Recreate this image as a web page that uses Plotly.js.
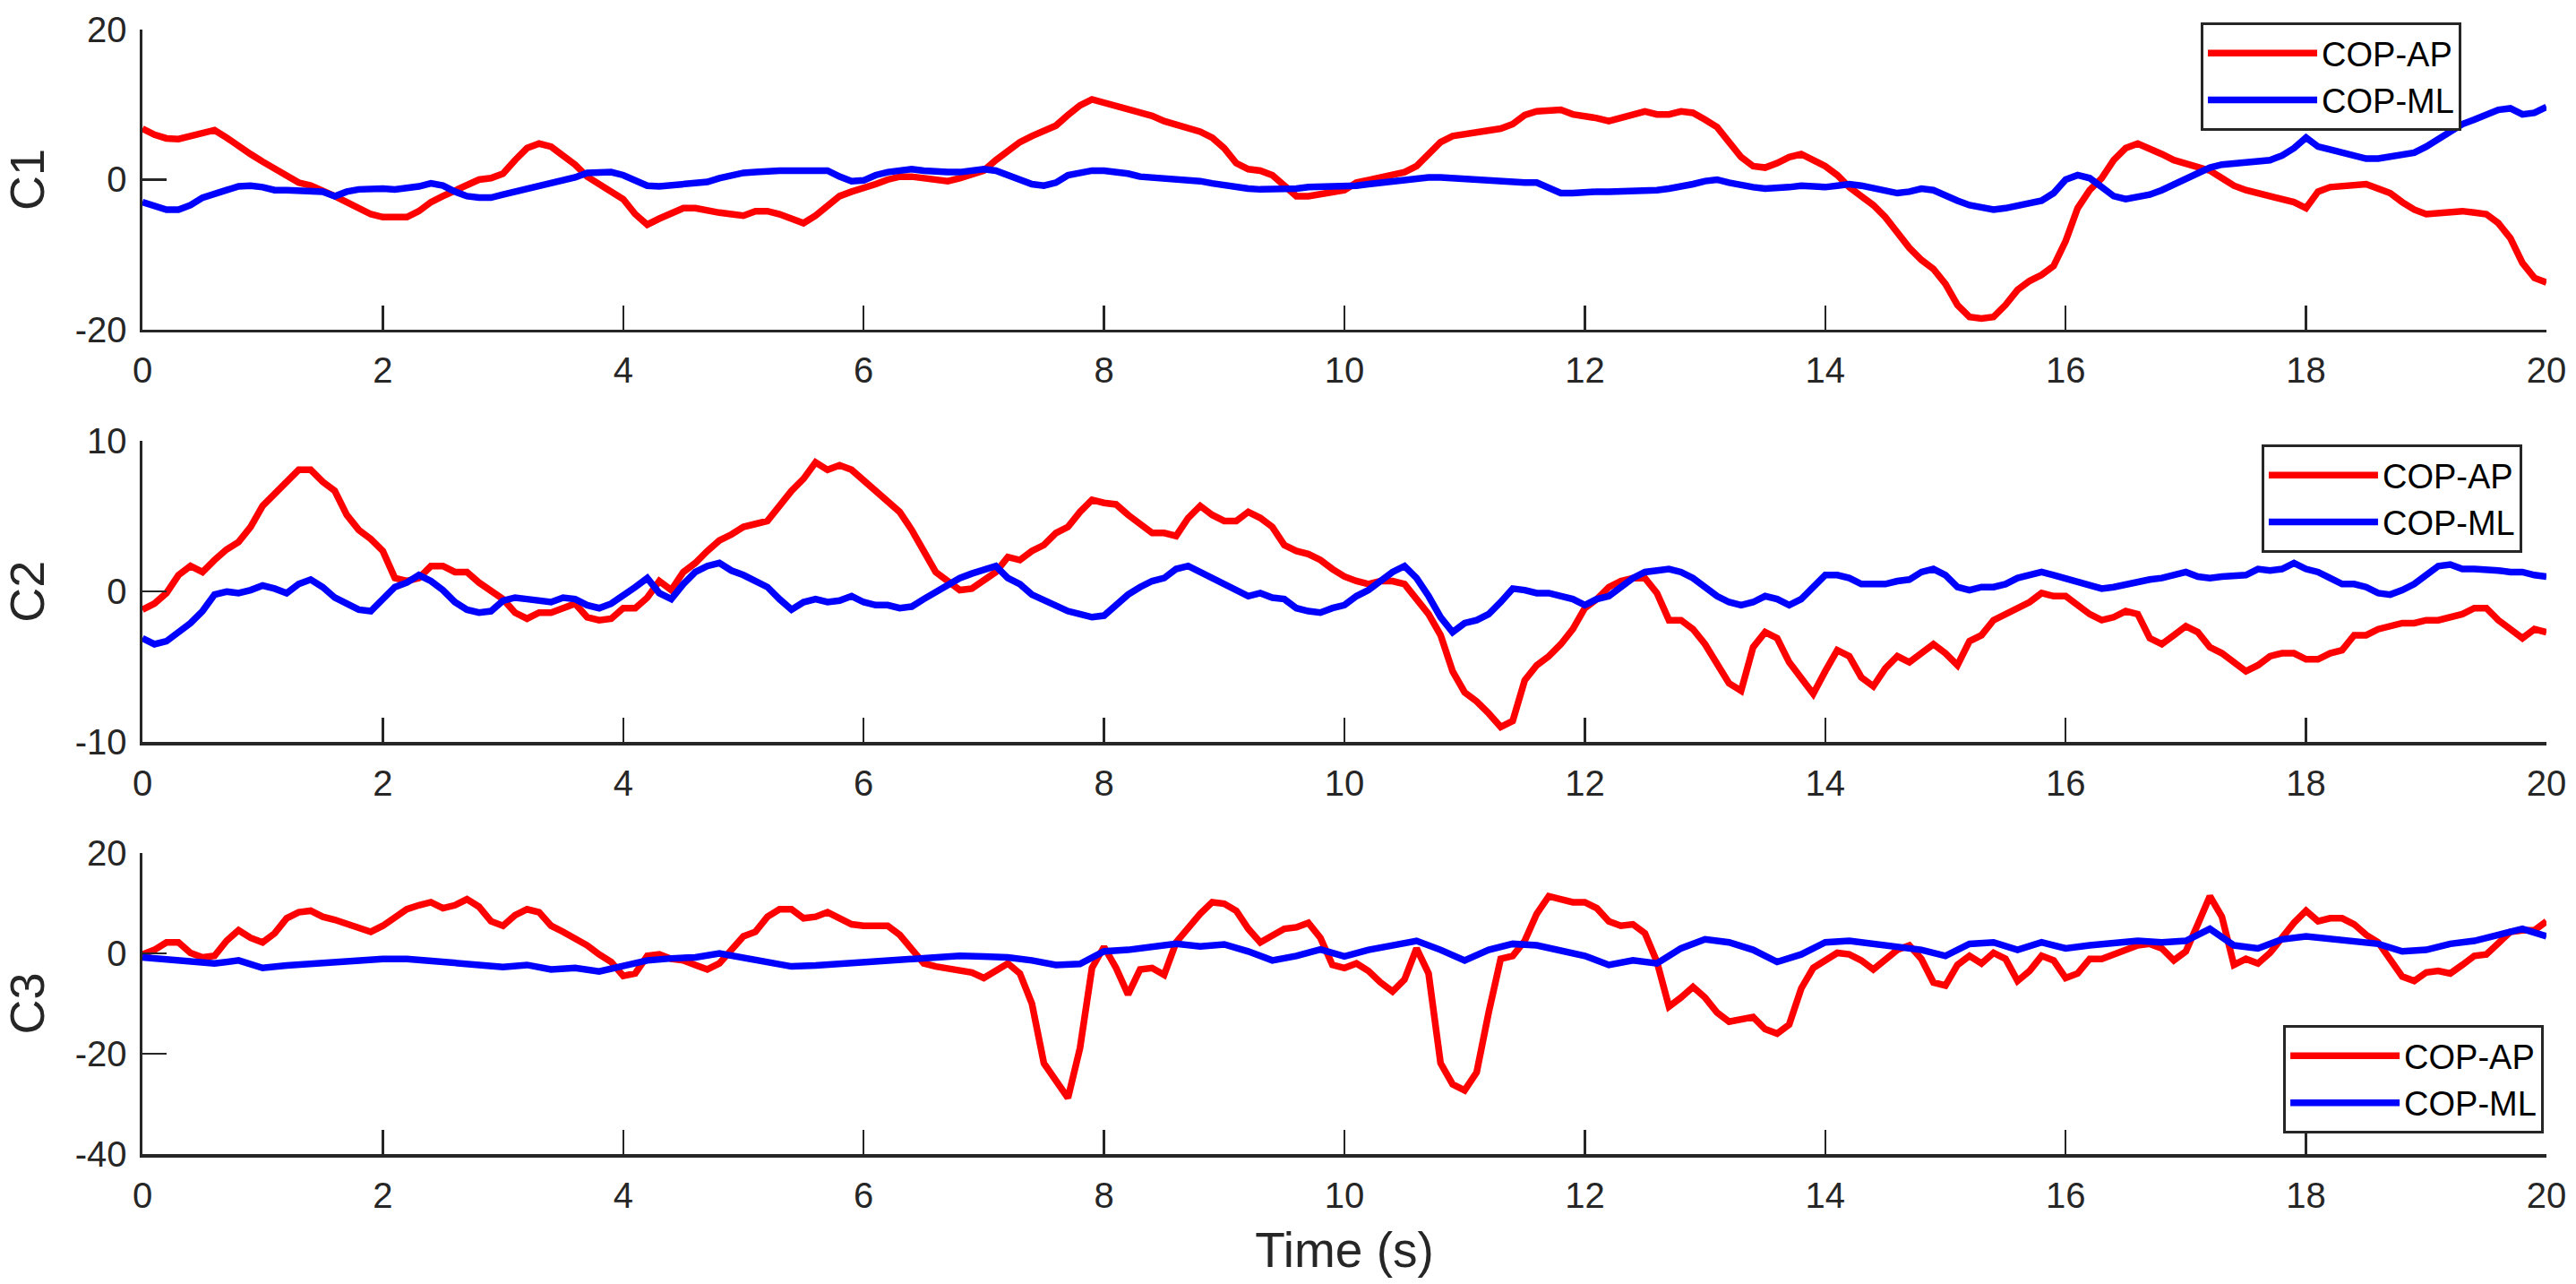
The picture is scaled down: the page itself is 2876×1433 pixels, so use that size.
<!DOCTYPE html>
<html>
<head>
<meta charset="utf-8">
<script src="https://cdn.plot.ly/plotly-3.0.1.min.js"></script>
<style>
  html, body { margin: 0; padding: 0; background: #fff; }
  #plot { width: 2876px; height: 1433px; }
</style>
</head>
<body>
<div id="plot"></div>
<script>
// sampling of the traces (seconds)
const dtFine = 0.1;
const dtCoarse = 0.2;

const seriesNames = ['COP-AP', 'COP-ML'];
const panelLabels = ['C1', 'C2', 'C3'];
const xTicks = [0, 2, 4, 6, 8, 10, 12, 14, 16, 18, 20];
const yTicksC1 = [-20, 0, 20];
const yTicksC2 = [-10, 0, 10];
const yTicksC3 = [-40, -20, 0, 20];

// C1, values every 0.1 s
const c1Ap = [
  6.8, 6.0, 5.5, 5.4, 5.8, 6.2, 6.6, 5.6, 4.4, 3.4,
  2.4, 1.4, 0.4, -0.4, -0.8, -1.4, -2.2, -3.0, -3.8, -4.6,
  -5.0, -5.0, -5.0, -4.2, -3.0, -2.2, -1.4, -0.8, 0.0, 0.2,
  0.8, 2.6, 4.2, 4.8, 4.4, 3.2, 2.0, 0.4, -0.6, -1.4,
  -2.6, -4.6, -6.0, -5.2, -4.6, -3.8, -3.8, -4.2, -4.4, -4.6,
  -4.8, -4.2, -4.2, -4.6, -5.2, -5.8, -4.8, -3.4, -2.2, -1.6,
  -1.2, -0.6, 0.0, 0.4, 0.4, 0.2, -0.2, -0.2, 0.2, 0.6,
  1.2, 2.6, 3.8, 5.0, 5.8, 6.4, 7.2, 8.6, 9.9, 10.7,
  10.3, 9.7, 9.3, 8.9, 8.5, 7.8, 7.4, 7.0, 6.4, 5.6,
  4.2, 2.2, 1.4, 1.2, 0.6, -0.8, -2.2, -2.2, -2.0, -1.8,
  -1.4, -0.4, 0.0, 0.2, 0.6, 1.0, 1.8, 3.4, 5.0, 5.8,
  6.0, 6.4, 6.6, 6.8, 7.4, 8.6, 9.1, 9.1, 9.3, 8.7,
  8.5, 8.2, 7.8, 8.2, 8.7, 9.1, 8.7, 8.7, 9.1, 8.9,
  8.0, 7.0, 5.0, 3.0, 1.8, 1.6, 2.2, 3.0, 3.4, 2.6,
  1.8, 0.6, -1.0, -2.2, -3.4, -5.0, -7.0, -9.1, -10.7, -11.9,
  -13.9, -16.7, -18.3, -18.5, -18.3, -16.7, -14.7, -13.5, -12.7, -11.5,
  -8.2, -3.8, -1.4, 0.2, 2.6, 4.2, 4.8, 4.2, 3.4, 2.6,
  2.2, 1.6, 1.2, 0.2, -0.8, -1.4, -1.8, -2.4, -2.8, -3.0,
  -3.8, -1.6, -1.0, -0.8, -0.6, -0.6, -1.2, -1.8, -3.0, -4.0,
  -4.6, -4.4, -4.2, -4.2, -4.4, -4.6, -5.8, -7.8, -11.1, -13.1,
  -13.7
];
const c1Ml = [
  -3.0, -3.6, -4.0, -4.0, -3.4, -2.4, -1.8, -1.4, -0.9, -0.8,
  -1.0, -1.4, -1.4, -1.4, -1.4, -1.6, -2.2, -1.6, -1.3, -1.2,
  -1.2, -1.3, -1.2, -0.9, -0.5, -0.8, -1.6, -2.2, -2.4, -2.4,
  -2.0, -1.6, -1.4, -1.0, -0.6, -0.2, 0.3, 0.9, 1.0, 1.0,
  0.6, -0.2, -0.8, -0.9, -0.8, -0.7, -0.6, -0.3, 0.2, 0.6,
  0.9, 1.0, 1.2, 1.2, 1.2, 1.2, 1.3, 1.2, 0.4, -0.2,
  -0.1, 0.6, 1.0, 1.3, 1.4, 1.2, 1.0, 1.0, 1.0, 1.2,
  1.4, 1.2, 0.6, 0.0, -0.6, -0.8, -0.4, 0.6, 1.0, 1.2,
  1.2, 1.1, 0.8, 0.4, 0.3, 0.3, 0.2, 0.1, -0.2, -0.5,
  -0.8, -1.0, -1.2, -1.3, -1.3, -1.4, -1.2, -1.0, -1.0, -1.0,
  -1.0, -0.8, -0.6, -0.4, -0.2, 0.0, 0.2, 0.3, 0.3, 0.2,
  0.0, -0.2, -0.3, -0.4, -0.3, -0.4, -0.4, -1.0, -1.8, -1.8,
  -1.6, -1.6, -1.6, -1.6, -1.6, -1.4, -1.4, -1.2, -1.0, -0.6,
  -0.2, 0.0, -0.4, -0.8, -1.0, -1.2, -1.2, -1.0, -0.8, -1.0,
  -1.0, -0.8, -0.6, -0.8, -1.2, -1.6, -1.8, -1.6, -1.2, -1.4,
  -2.2, -2.8, -3.4, -3.8, -4.0, -3.8, -3.4, -3.2, -2.8, -1.8,
  0.0, 0.6, 0.2, -1.0, -2.2, -2.6, -2.4, -2.0, -1.4, -0.6,
  0.2, 1.0, 1.6, 2.0, 2.2, 2.3, 2.4, 2.6, 3.2, 4.2,
  5.6, 4.4, 4.0, 3.6, 3.2, 2.8, 2.8, 3.0, 3.2, 3.6,
  4.4, 5.4, 6.4, 7.4, 8.0, 8.7, 9.3, 9.5, 8.7, 8.9,
  9.7
];

// C2, values every 0.1 s
const c2Ap = [
  -1.2, -0.8, -0.1, 1.1, 1.7, 1.3, 2.1, 2.8, 3.3, 4.3,
  5.7, 6.5, 7.3, 8.1, 8.1, 7.3, 6.7, 5.1, 4.1, 3.5,
  2.7, 0.9, 0.7, 0.9, 1.7, 1.7, 1.3, 1.3, 0.6, 0.1,
  -0.5, -1.4, -1.8, -1.4, -1.4, -1.1, -0.8, -1.7, -1.9, -1.8,
  -1.1, -1.1, -0.4, 0.7, 0.1, 1.3, 1.9, 2.7, 3.4, 3.8,
  4.3, 4.5, 4.7, 5.7, 6.7, 7.5, 8.6, 8.1, 8.4, 8.1,
  7.4, 6.7, 5.9, 5.3, 4.1, 2.7, 1.3, 0.7, 0.1, 0.2,
  0.7, 1.3, 2.3, 2.1, 2.7, 3.1, 3.9, 4.3, 5.3, 6.1,
  5.9, 5.8, 5.1, 4.5, 3.9, 3.9, 3.7, 4.9, 5.7, 5.1,
  4.7, 4.7, 5.3, 4.9, 4.3, 3.1, 2.7, 2.5, 2.1, 1.5,
  1.0, 0.7, 0.5, 0.7, 0.7, 0.5, -0.5, -1.5, -2.9, -5.3,
  -6.7, -7.3, -8.1, -9.0, -8.6, -5.9, -4.9, -4.3, -3.5, -2.5,
  -1.1, -0.5, 0.3, 0.7, 0.9, 0.9, -0.1, -1.9, -1.9, -2.5,
  -3.5, -4.7, -6.1, -6.6, -3.7, -2.7, -3.1, -4.7, -5.7, -6.8,
  -5.3, -3.9, -4.3, -5.7, -6.3, -5.1, -4.3, -4.7, -4.1, -3.5,
  -4.1, -4.9, -3.3, -2.9, -1.9, -1.5, -1.1, -0.7, -0.1, -0.3,
  -0.3, -0.9, -1.5, -1.9, -1.7, -1.3, -1.5, -3.1, -3.5, -2.9,
  -2.3, -2.7, -3.7, -4.1, -4.7, -5.3, -4.9, -4.3, -4.1, -4.1,
  -4.5, -4.5, -4.1, -3.9, -2.9, -2.9, -2.5, -2.3, -2.1, -2.1,
  -1.9, -1.9, -1.7, -1.5, -1.1, -1.1, -1.9, -2.5, -3.1, -2.5,
  -2.7
];
const c2Ml = [
  -3.1, -3.5, -3.3, -2.7, -2.1, -1.3, -0.2, 0.0, -0.1, 0.1,
  0.4, 0.2, -0.1, 0.5, 0.8, 0.3, -0.4, -0.8, -1.2, -1.3,
  -0.5, 0.3, 0.6, 1.1, 0.7, 0.1, -0.7, -1.2, -1.4, -1.3,
  -0.6, -0.4, -0.5, -0.6, -0.7, -0.4, -0.5, -0.9, -1.1, -0.8,
  -0.3, 0.3, 0.9, -0.1, -0.5, 0.5, 1.3, 1.7, 1.9, 1.4,
  1.1, 0.7, 0.3, -0.5, -1.2, -0.7, -0.5, -0.7, -0.6, -0.3,
  -0.7, -0.9, -0.9, -1.1, -1.0, -0.5, 0.0, 0.5, 0.9, 1.2,
  1.4, 1.7, 0.9, 0.5, -0.2, -0.6, -0.9, -1.3, -1.5, -1.7,
  -1.6, -0.9, -0.2, 0.3, 0.7, 0.9, 1.5, 1.7, 1.3, 0.9,
  0.4, 0.0, -0.3, -0.1, -0.4, -0.5, -1.1, -1.3, -1.4, -1.1,
  -0.9, -0.3, 0.1, 0.7, 1.3, 1.7, 0.9, -0.3, -1.7, -2.7,
  -2.1, -1.9, -1.5, -0.7, 0.2, 0.1, -0.1, -0.1, -0.3, -0.5,
  -0.9, -0.5, -0.3, 0.3, 0.9, 1.3, 1.4, 1.5, 1.3, 0.9,
  0.3, -0.3, -0.7, -0.9, -0.7, -0.3, -0.5, -0.9, -0.5, 0.3,
  1.1, 1.1, 0.9, 0.5, 0.5, 0.5, 0.7, 0.8, 1.3, 1.5,
  1.1, 0.3, 0.1, 0.3, 0.3, 0.5, 0.9, 1.1, 1.3, 1.1,
  0.9, 0.7, 0.5, 0.2, 0.3, 0.5, 0.7, 0.8, 0.9, 1.1,
  1.3, 1.0, 0.9, 1.0, 1.0, 1.1, 1.5, 1.4, 1.5, 1.9,
  1.5, 1.3, 0.9, 0.5, 0.5, 0.3, -0.1, -0.2, 0.1, 0.5,
  1.1, 1.7, 1.8, 1.5, 1.5, 1.5, 1.4, 1.3, 1.3, 1.1,
  1.0
];

// C3, AP every 0.1 s, ML every 0.2 s
const c3Ap = [
  -0.2, 0.7, 2.2, 2.2, 0.1, -0.8, -0.5, 2.5, 4.6, 3.1,
  2.2, 4.0, 7.0, 8.2, 8.5, 7.3, 6.7, 5.8, 5.2, 4.3,
  5.5, 7.3, 8.8, 9.6, 10.2, 9.0, 9.6, 10.8, 9.3, 6.4,
  5.5, 7.6, 8.8, 8.2, 5.5, 4.3, 3.1, 1.6, -0.2, -1.7,
  -4.5, -4.0, -0.5, -0.2, -1.1, -1.4, -2.3, -3.2, -2.0, 0.7,
  3.4, 4.3, 7.3, 8.8, 8.8, 7.0, 7.3, 8.2, 7.0, 5.8,
  5.5, 5.5, 5.5, 3.7, 0.7, -2.0, -2.6, -2.9, -3.5, -3.8,
  -4.9, -3.5, -2.0, -4.0, -10.0, -21.9, -25.5, -28.8, -18.9, -2.9,
  1.3, -2.9, -8.2, -3.2, -2.9, -4.3, 2.2, 5.2, 7.9, 10.2,
  9.9, 8.5, 4.9, 2.2, 3.7, 4.9, 5.2, 6.1, 3.1, -2.3,
  -2.9, -2.0, -3.5, -5.8, -7.6, -5.2, 1.0, -4.0, -21.9, -26.1,
  -27.3, -23.7, -11.8, -1.1, -0.5, 2.5, 7.9, 11.4, 10.8, 10.2,
  10.2, 9.0, 6.4, 5.5, 5.8, 4.0, -1.7, -10.6, -8.8, -6.7,
  -8.8, -11.8, -13.6, -13.3, -12.7, -15.1, -16.0, -14.2, -7.0, -2.9,
  -1.4, 0.1, -0.2, -1.4, -3.2, -1.1, 0.7, 1.6, -1.1, -5.8,
  -6.4, -2.3, -0.5, -2.0, 0.1, -1.1, -5.5, -3.5, -0.5, -1.4,
  -4.9, -4.0, -1.1, -1.1, -0.2, 0.7, 1.6, 1.9, 1.0, -1.4,
  0.4, 5.8, 11.4, 7.3, -2.3, -1.1, -2.0, 0.1, 3.1, 6.1,
  8.5, 6.4, 7.0, 7.0, 5.8, 3.7, 2.2, -1.1, -4.6, -5.5,
  -3.8, -3.5, -4.0, -2.3, -0.5, -0.2, 1.9, 4.3, 4.6, 4.6,
  6.4
];
const c3Ml = [
  -0.8, -1.2, -1.5, -2.0, -1.4, -2.9, -2.4, -2.1, -1.7, -1.2,
  -1.1, -1.1, -1.4, -2.0, -2.3, -2.7, -2.3, -3.2, -2.9, -3.6,
  -2.6, -1.4, -1.0, -0.8, 0.0, -0.8, -1.8, -2.6, -2.4, -2.1,
  -1.7, -1.4, -1.0, -0.6, -0.5, -0.6, -0.8, -1.4, -2.3, -2.1,
  0.4, 0.7, 1.4, 1.9, 1.4, 1.8, 0.4, -1.4, -0.5, 0.8,
  -0.6, 0.7, 1.6, 2.5, 0.7, -1.4, 0.7, 1.9, 1.6, 0.7,
  -0.5, -2.3, -1.4, -2.0, 1.0, 2.8, 2.2, 0.7, -1.7, -0.2,
  2.2, 2.5, 1.9, 1.6, 0.7, -0.5, 1.9, 2.2, 0.7, 2.2,
  1.0, 1.6, 2.0, 2.5, 2.2, 2.5, 4.9, 1.6, 1.0, 2.8,
  3.4, 3.0, 2.5, 1.9, 0.4, 0.7, 1.9, 2.5, 3.7, 4.9,
  3.4
];

const apColor = '#FF0000';
const mlColor = '#0000FF';
const ink = '#262626';
const fontFamily = '"Liberation Sans", Arial, Helvetica, sans-serif';

function trace(y, dx, name, color, n) {
  return {
    type: 'scatter',
    mode: 'lines',
    x0: 0,
    dx: dx,
    y: y,
    name: name,
    xaxis: n === 1 ? 'x' : 'x' + n,
    yaxis: n === 1 ? 'y' : 'y' + n,
    legend: n === 1 ? 'legend' : 'legend' + n,
    line: { color: color, width: 7.5 },
    hoverinfo: 'skip'
  };
}

const data = [
  trace(c1Ap, dtFine, seriesNames[0], apColor, 1),
  trace(c1Ml, dtFine, seriesNames[1], mlColor, 1),
  trace(c2Ap, dtFine, seriesNames[0], apColor, 2),
  trace(c2Ml, dtFine, seriesNames[1], mlColor, 2),
  trace(c3Ap, dtFine, seriesNames[0], apColor, 3),
  trace(c3Ml, dtCoarse, seriesNames[1], mlColor, 3)
];

function xAxis(anchor, title) {
  const ax = {
    anchor: anchor,
    domain: [0, 1],
    range: [0, 20],
    tickmode: 'array',
    tickvals: xTicks,
    ticktext: xTicks.map(String),
    ticks: 'inside',
    ticklen: 27,
    tickwidth: 2.5,
    tickcolor: ink,
    showline: true,
    linecolor: ink,
    linewidth: 3.5,
    showgrid: false,
    zeroline: false,
    tickfont: { family: fontFamily, size: 40, color: ink },
    ticklabelstandoff: 8,
    fixedrange: true
  };
  if (title) {
    ax.title = { text: title, font: { family: fontFamily, size: 55, color: ink }, standoff: 22 };
  }
  return ax;
}

function yAxis(anchor, domain, range, ticks, title) {
  return {
    anchor: anchor,
    domain: domain,
    range: range,
    tickmode: 'array',
    tickvals: ticks,
    // plain hyphen for negatives, as in the original figure
    ticktext: ticks.map(String),
    ticks: 'inside',
    ticklen: 27,
    tickwidth: 2.5,
    tickcolor: ink,
    showline: true,
    linecolor: ink,
    linewidth: 3.5,
    showgrid: false,
    zeroline: false,
    tickfont: { family: fontFamily, size: 40, color: ink },
    ticklabelstandoff: 6,
    title: { text: title, font: { family: fontFamily, size: 54, color: ink }, standoff: 18 },
    fixedrange: true
  };
}

function legendBox(x, y) {
  return {
    x: x,
    y: y,
    xanchor: 'left',
    yanchor: 'top',
    bgcolor: '#FFFFFF',
    bordercolor: ink,
    borderwidth: 3,
    itemwidth: 122,
    tracegroupgap: 0,
    font: { family: fontFamily, size: 38, color: '#000000' }
  };
}

const layout = {
  width: 2876,
  height: 1433,
  margin: { l: 159, r: 33, t: 33, b: 145, pad: 0 },
  paper_bgcolor: '#FFFFFF',
  plot_bgcolor: '#FFFFFF',
  font: { family: fontFamily, color: ink },
  showlegend: true,
  xaxis: xAxis('y'),
  xaxis2: xAxis('y2'),
  xaxis3: xAxis('y3', 'Time (s)'),
  yaxis: yAxis('x', [0.7331, 1], [-20, 20], yTicksC1, panelLabels[0]),
  yaxis2: yAxis('x2', [0.3665, 0.6339], [-10, 10], yTicksC2, panelLabels[1]),
  yaxis3: yAxis('x3', [0, 0.2677], [-40, 20], yTicksC3, panelLabels[2]),
  legend: legendBox(0.8562, 1.0064),
  legend2: legendBox(0.8815, 0.6311),
  legend3: legendBox(0.8905, 0.1147)
};

const options = { displayModeBar: false, staticPlot: true };

Plotly.newPlot(document.getElementById('plot'), data, layout, options);
</script>
</body>
</html>
